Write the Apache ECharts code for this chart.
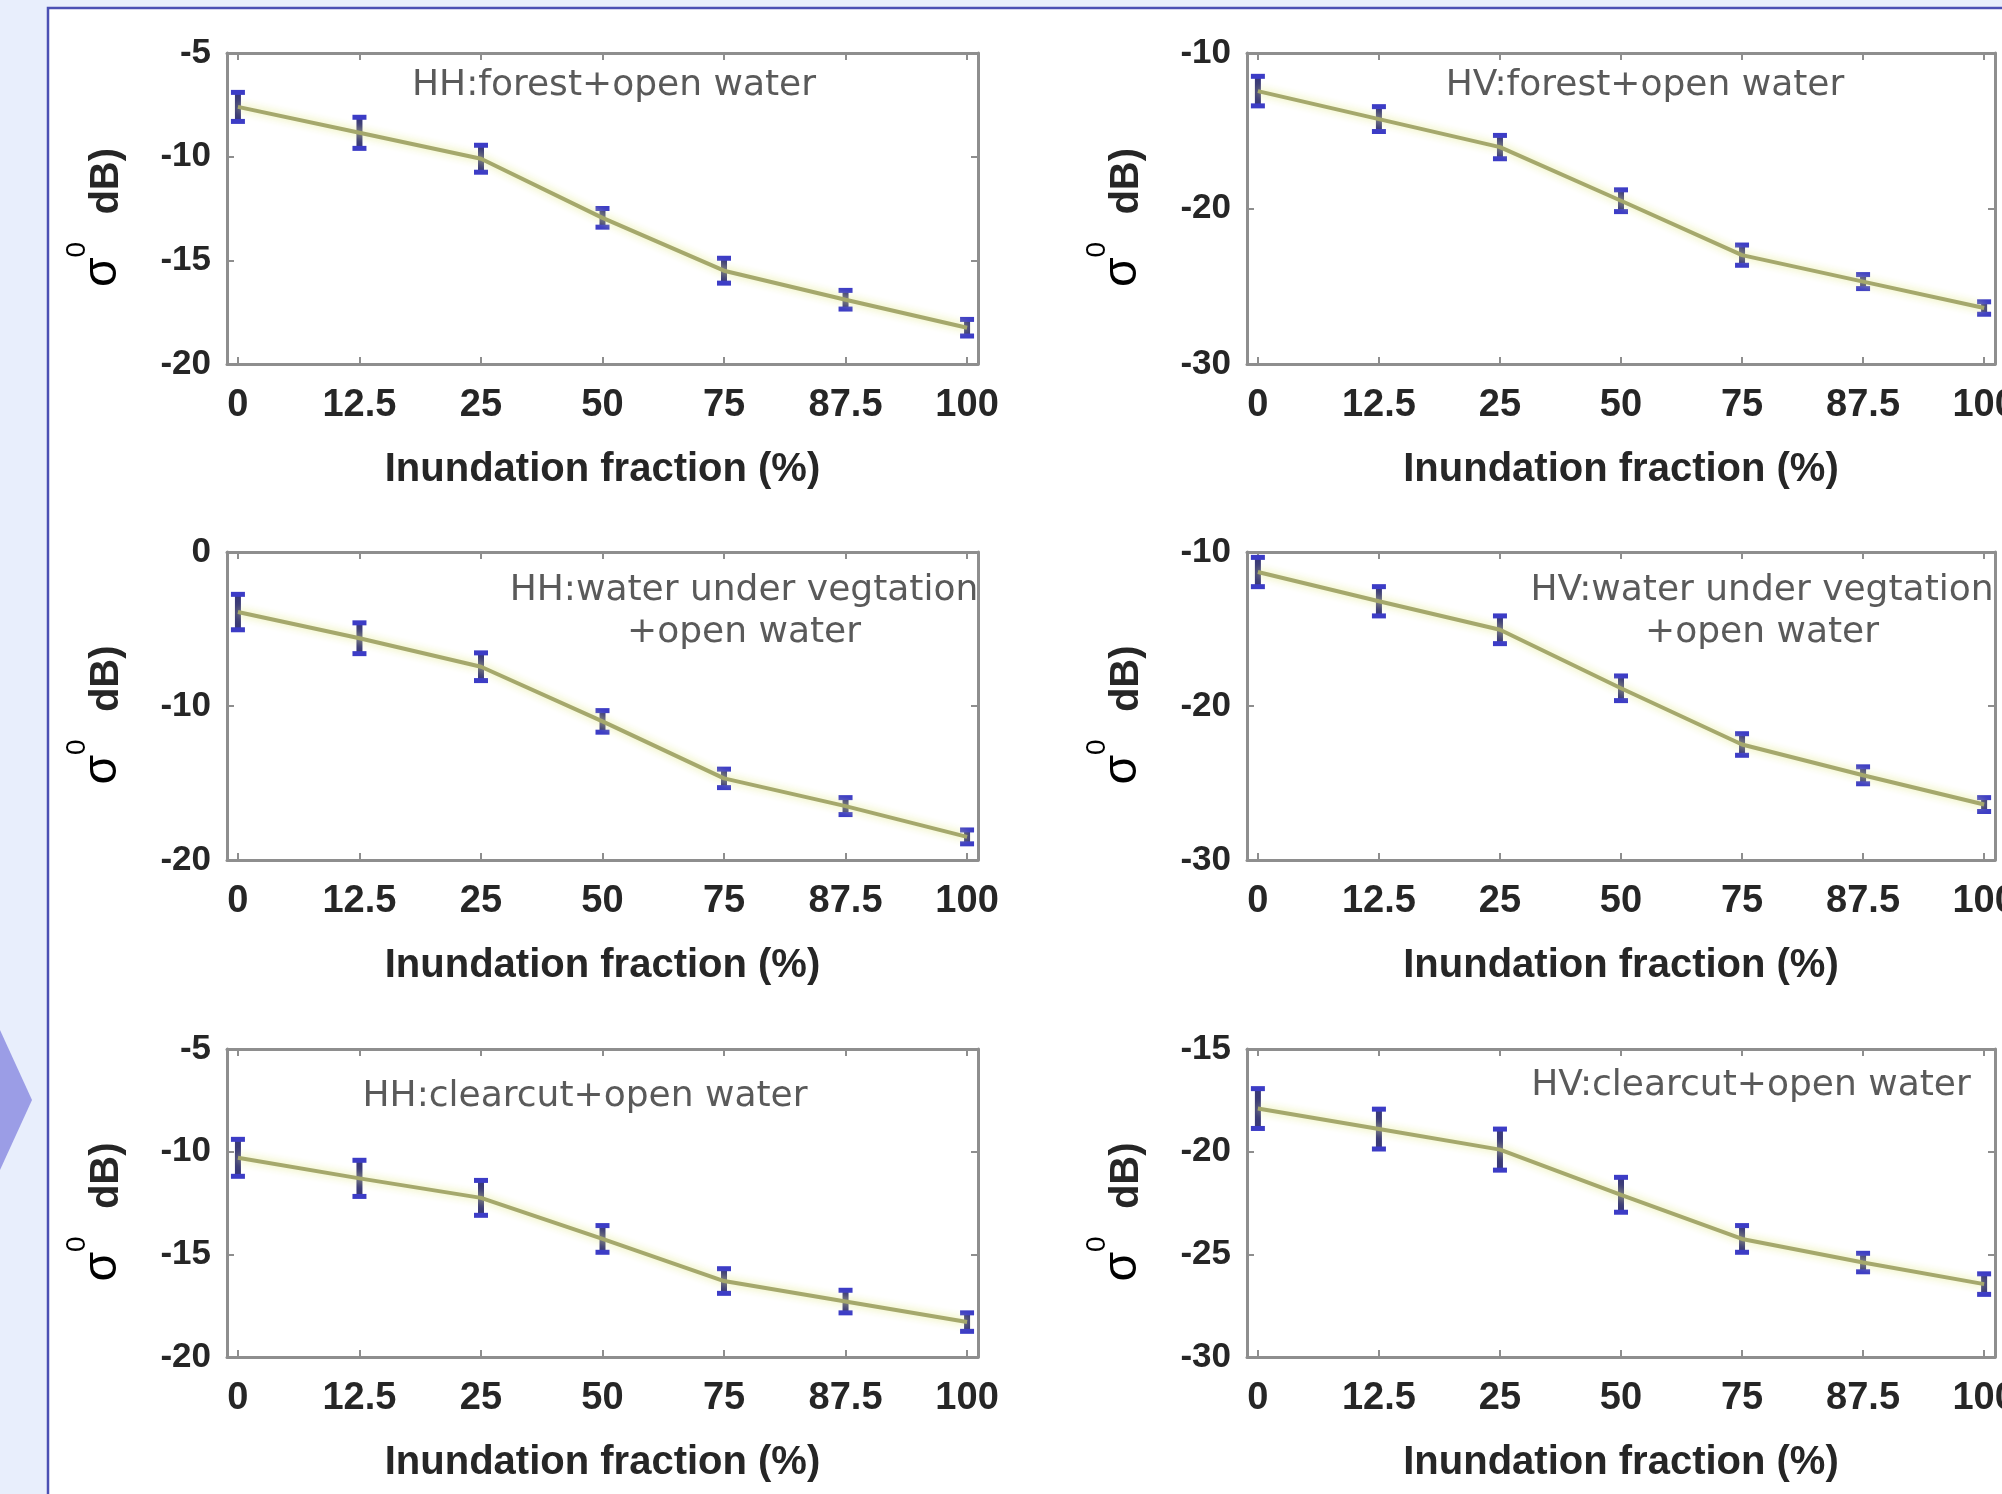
<!DOCTYPE html>
<html>
<head>
<meta charset="utf-8">
<style>
  html, body { margin: 0; padding: 0; background: #e8eefc; }
  #chart { width: 2002px; height: 1494px; }
</style>
<script src="https://cdn.jsdelivr.net/npm/echarts@6/dist/echarts.min.js"></script>
</head>
<body>
<div id="chart"></div>
<script>
// ---- data ----
const fractionLabels = ['0', '12.5', '25', '50', '75', '87.5', '100'];

const hhForestMean = [-7.6, -8.85, -10.1, -12.95, -15.5, -16.9, -18.25];
const hhForestErr  = [0.7, 0.75, 0.65, 0.45, 0.6, 0.45, 0.4];

const hvForestMean = [-12.45, -14.25, -16.05, -19.5, -23.0, -24.7, -26.4];
const hvForestErr  = [0.95, 0.8, 0.75, 0.7, 0.65, 0.45, 0.4];

const hhWuvMean = [-3.9, -5.6, -7.45, -11.0, -14.7, -16.5, -18.5];
const hhWuvErr  = [1.15, 1.0, 0.9, 0.7, 0.6, 0.55, 0.45];

const hvWuvMean = [-11.3, -13.2, -15.05, -18.85, -22.5, -24.5, -26.4];
const hvWuvErr  = [0.95, 0.95, 0.9, 0.8, 0.7, 0.55, 0.45];

const hhClearMean = [-10.3, -11.3, -12.25, -14.25, -16.3, -17.3, -18.3];
const hhClearErr  = [0.9, 0.88, 0.85, 0.65, 0.6, 0.55, 0.45];

const hvClearMean = [-17.9, -18.9, -19.9, -22.1, -24.25, -25.4, -26.45];
const hvClearErr  = [0.97, 0.97, 1.0, 0.85, 0.65, 0.45, 0.5];

const panelTitles = [
  'HH:forest+open water',
  'HV:forest+open water',
  'HH:water under vegtation\n+open water',
  'HV:water under vegtation\n+open water',
  'HH:clearcut+open water',
  'HV:clearcut+open water'
];
const yRanges = [
  [-20, -5, 5], [-30, -10, 10],
  [-20, 0, 10], [-30, -10, 10],
  [-20, -5, 5], [-30, -15, 5]
];
const xAxisTitle = 'Inundation fraction (%)';
const yAxisTitle = '{s|σ}{p|0}{h|(}{b|dB)}';

const means = [hhForestMean, hvForestMean, hhWuvMean, hvWuvMean, hhClearMean, hvClearMean];
const errs  = [hhForestErr, hvForestErr, hhWuvErr, hvWuvErr, hhClearErr, hvClearErr];

// ---- layout ----
const grids = [
  { left: 227,  top: 53,   width: 751, height: 311 },
  { left: 1247, top: 53,   width: 748, height: 311 },
  { left: 227,  top: 552,  width: 751, height: 308 },
  { left: 1247, top: 552,  width: 748, height: 308 },
  { left: 227,  top: 1049, width: 751, height: 308 },
  { left: 1247, top: 1049, width: 748, height: 308 }
];
const titlePos = [
  [614, 86], [1645, 86],
  [744, 612], [1762, 612],
  [585, 1097], [1751, 1086]
];

const frameColor = '#8e8e8e';
const labelColor = '#262626';
const xIdx = fractionLabels.map((_, i) => i);

const option = {
  animation: false,
  backgroundColor: '#e8eefc',
  grid: [],
  xAxis: [],
  yAxis: [],
  series: [],
  graphic: []
};

option.graphic.push({
  type: 'rect', z: -100, silent: true,
  shape: { x: 48, y: 8, width: 2200, height: 1700 },
  style: { fill: '#ffffff', stroke: '#4b50b4', lineWidth: 2.5 }
});
option.graphic.push({
  type: 'polygon', z: -90, silent: true,
  shape: { points: [[0, 1030], [32, 1100], [0, 1170]] },
  style: { fill: '#9b9de6' }
});

grids.forEach((g, i) => {
  option.grid.push(Object.assign({ show: false, outerBoundsMode: 'none', containLabel: false }, g));
  const [ymin, ymax, yint] = yRanges[i];
  const baseX = {
    type: 'value', gridIndex: i, min: -0.09, max: 6.09,
    axisLine: { show: true, onZero: false, lineStyle: { color: frameColor, width: 3 } },
    axisTick: { show: true, inside: true, length: 7, customValues: xIdx, lineStyle: { color: frameColor, width: 2 } },
    splitLine: { show: false }
  };
  option.xAxis.push(Object.assign({}, baseX, {
    position: 'bottom',
    axisLabel: {
      show: true, customValues: xIdx, margin: 23,
      formatter: v => fractionLabels[Math.round(v)],
      fontFamily: 'Liberation Sans', fontWeight: 'bold', fontSize: 38, lineHeight: 38, color: labelColor
    },
    name: xAxisTitle, nameLocation: 'middle', nameGap: 86,
    nameTextStyle: { fontFamily: 'Liberation Sans', fontWeight: 'bold', fontSize: 40, lineHeight: 40, color: labelColor }
  }));
  option.xAxis.push(Object.assign({}, baseX, { position: 'top', axisLabel: { show: false } }));

  const baseY = {
    type: 'value', gridIndex: i, min: ymin, max: ymax, interval: yint,
    axisLine: { show: true, onZero: false, lineStyle: { color: frameColor, width: 3 } },
    axisTick: { show: true, inside: true, length: 7, lineStyle: { color: frameColor, width: 2 } },
    splitLine: { show: false }
  };
  option.yAxis.push(Object.assign({}, baseY, {
    position: 'left',
    axisLabel: {
      show: true, margin: 16,
      fontFamily: 'Liberation Sans', fontWeight: 'bold', fontSize: 35, color: labelColor
    },
    name: yAxisTitle, nameLocation: 'middle', nameGap: 100, nameRotate: 90,
    nameTextStyle: {
      rich: {
        s: { fontFamily: 'Liberation Sans', fontSize: 48, lineHeight: 48, color: '#000', verticalAlign: 'bottom' },
        p: { fontFamily: 'Liberation Sans', fontSize: 28, lineHeight: 40, color: '#000', verticalAlign: 'top' },
        h: { fontFamily: 'Liberation Sans', fontWeight: 'bold', fontSize: 40, lineHeight: 64, color: '#ffffff', padding: [0, 8, 0, 6] },
        b: { fontFamily: 'Liberation Sans', fontWeight: 'bold', fontSize: 40, lineHeight: 40, color: labelColor, verticalAlign: 'bottom', padding: [0, 18, 0, 0] }
      }
    }
  }));
  option.yAxis.push(Object.assign({}, baseY, { position: 'right', axisLabel: { show: false } }));

  const m = means[i], e = errs[i];
  option.series.push({
    type: 'custom', xAxisIndex: 2 * i, yAxisIndex: 2 * i, z: 3, silent: true,
    data: xIdx.map(k => [k, m[k], e[k]]),
    renderItem: (params, api) => {
      const x = api.value(0), v = api.value(1), d = api.value(2);
      const pTop = api.coord([x, v + d]);
      const pBot = api.coord([x, v - d]);
      const hw = 7;
      return {
        type: 'group',
        children: [
          { type: 'line', shape: { x1: pTop[0], y1: pTop[1], x2: pBot[0], y2: pBot[1] }, style: { stroke: '#3a3a78', lineWidth: 6 } },
          { type: 'line', shape: { x1: pTop[0] - hw, y1: pTop[1], x2: pTop[0] + hw, y2: pTop[1] }, style: { stroke: '#3c3cc6', lineWidth: 5 } },
          { type: 'line', shape: { x1: pBot[0] - hw, y1: pBot[1], x2: pBot[0] + hw, y2: pBot[1] }, style: { stroke: '#3c3cc6', lineWidth: 5 } }
        ]
      };
    }
  });
  option.series.push({
    type: 'line', xAxisIndex: 2 * i, yAxisIndex: 2 * i, z: 5, silent: true,
    data: xIdx.map(k => [k, m[k]]),
    showSymbol: false, symbol: 'none',
    lineStyle: { color: '#a5a86c', width: 4, shadowColor: 'rgba(228,234,140,0.95)', shadowBlur: 8 }
  });

  option.graphic.push({
    type: 'text', z: 50, silent: true,
    x: titlePos[i][0], y: titlePos[i][1],
    style: {
      text: panelTitles[i], textAlign: 'center', textVerticalAlign: 'middle',
      fontFamily: 'DejaVu Sans', fontSize: 36, lineHeight: 42, fill: '#5a5a5a'
    }
  });
});

const chart = echarts.init(document.getElementById('chart'), null, { renderer: 'canvas' });
chart.setOption(option);
</script>
</body>
</html>
